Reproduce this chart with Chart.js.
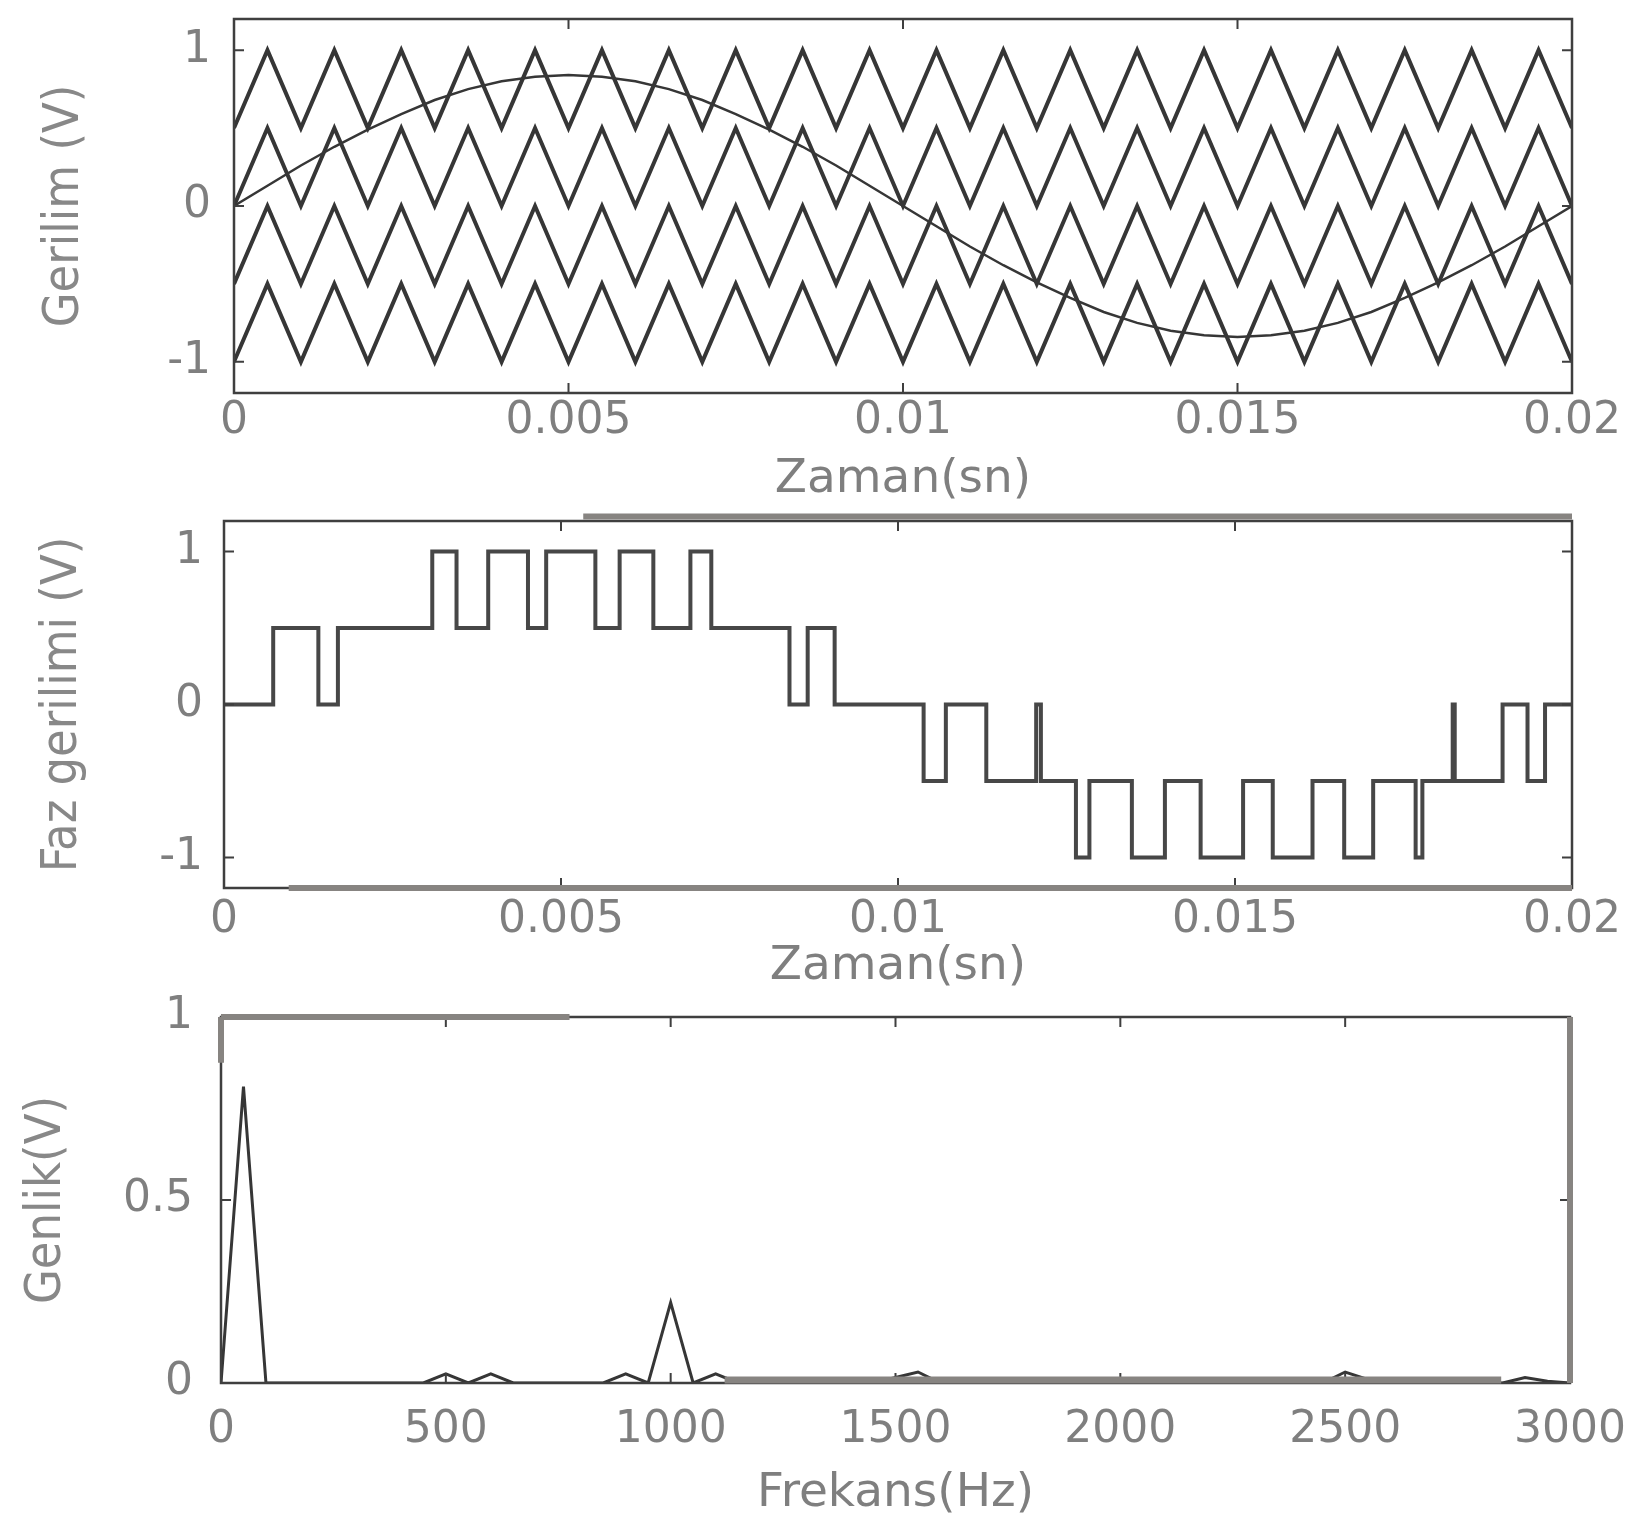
<!DOCTYPE html>
<html>
<head>
<meta charset="utf-8">
<title>Faz gerilimi ve spektrum</title>
<script src="https://cdn.jsdelivr.net/npm/chart.js@4.4.0/dist/chart.umd.min.js"></script>
<style>
  body { margin: 0; background: #fff; }
  #wrap { position: relative; width: 1652px; height: 1527px; }
  canvas { position: absolute; left: 0; }
</style>
</head>
<body>
<div id="wrap">
  <canvas id="gerilim" width="1652" height="520" style="top:0px"></canvas>
  <canvas id="faz" width="1652" height="520" style="top:490px"></canvas>
  <canvas id="genlik" width="1652" height="542" style="top:985px"></canvas>
</div>
<script>
// --- ust grafik: tasiyicilar ve referans (0.5 ms aralik) ---
var zaman = [0, 0.0005, 0.001, 0.0015, 0.002, 0.0025, 0.003, 0.0035, 0.004, 0.0045,
             0.005, 0.0055, 0.006, 0.0065, 0.007, 0.0075, 0.008, 0.0085, 0.009, 0.0095,
             0.01, 0.0105, 0.011, 0.0115, 0.012, 0.0125, 0.013, 0.0135, 0.014, 0.0145,
             0.015, 0.0155, 0.016, 0.0165, 0.017, 0.0175, 0.018, 0.0185, 0.019, 0.0195, 0.02];
var tasiyici1 = [0.5,1,0.5,1,0.5,1,0.5,1,0.5,1, 0.5,1,0.5,1,0.5,1,0.5,1,0.5,1,
                 0.5,1,0.5,1,0.5,1,0.5,1,0.5,1, 0.5,1,0.5,1,0.5,1,0.5,1,0.5,1, 0.5];
var tasiyici2 = [0,0.5,0,0.5,0,0.5,0,0.5,0,0.5, 0,0.5,0,0.5,0,0.5,0,0.5,0,0.5,
                 0,0.5,0,0.5,0,0.5,0,0.5,0,0.5, 0,0.5,0,0.5,0,0.5,0,0.5,0,0.5, 0];
var tasiyici3 = [-0.5,0,-0.5,0,-0.5,0,-0.5,0,-0.5,0, -0.5,0,-0.5,0,-0.5,0,-0.5,0,-0.5,0,
                 -0.5,0,-0.5,0,-0.5,0,-0.5,0,-0.5,0, -0.5,0,-0.5,0,-0.5,0,-0.5,0,-0.5,0, -0.5];
var tasiyici4 = [-1,-0.5,-1,-0.5,-1,-0.5,-1,-0.5,-1,-0.5, -1,-0.5,-1,-0.5,-1,-0.5,-1,-0.5,-1,-0.5,
                 -1,-0.5,-1,-0.5,-1,-0.5,-1,-0.5,-1,-0.5, -1,-0.5,-1,-0.5,-1,-0.5,-1,-0.5,-1,-0.5, -1];
var referans = [0,0.13,0.26,0.38,0.49,0.59,0.68,0.75,0.8,0.83,
                0.84,0.83,0.8,0.75,0.68,0.59,0.49,0.38,0.26,0.13,
                0,-0.13,-0.26,-0.38,-0.49,-0.59,-0.68,-0.75,-0.8,-0.83,
                -0.84,-0.83,-0.8,-0.75,-0.68,-0.59,-0.49,-0.38,-0.26,-0.13, 0];

// --- orta grafik: faz gerilimi (anahtarlama anlari ve seviyeler) ---
var fazZaman = [0, 0.00073, 0.0014, 0.00169, 0.00309, 0.00345, 0.00392, 0.00451, 0.00478, 0.00551,
                0.00587, 0.00637, 0.00692, 0.00723, 0.00839, 0.00866, 0.00906, 0.01038, 0.01071, 0.01131,
                0.01205, 0.01212, 0.01264, 0.01284, 0.01347, 0.01396, 0.01449, 0.01512, 0.01556, 0.01615,
                0.01662, 0.01705, 0.01768, 0.01778, 0.01823, 0.01826, 0.01897, 0.01934, 0.0196, 0.02];
var fazGerilim = [0, 0.5, 0, 0.5, 1, 0.5, 1, 0.5, 1, 0.5,
                  1, 0.5, 1, 0.5, 0, 0.5, 0, -0.5, 0, -0.5,
                  0, -0.5, -1, -0.5, -1, -0.5, -1, -0.5, -1, -0.5,
                  -1, -0.5, -1, -0.5, 0, -0.5, 0, -0.5, 0, 0];

// --- alt grafik: genlik spektrumu (50 Hz cozunurluk) ---
var frekans = [0,50,100,150,200,250,300,350,400,450,500,550,600,650,700,750,800,850,900,950,
               1000,1050,1100,1150,1200,1250,1300,1350,1400,1450,1500,1550,1600,1650,1700,1750,1800,1850,1900,1950,
               2000,2050,2100,2150,2200,2250,2300,2350,2400,2450,2500,2550,2600,2650,2700,2750,2800,2850,2900,2950,3000];
var genlik = [0,0.81,0,0,0,0,0,0,0,0, 0.025,0,0.025,0,0,0,0,0,0.025,0,
              0.22,0,0.025,0,0,0,0,0,0.01,0, 0.015,0.03,0,0,0,0.012,0,0,0,0,
              0,0.008,0,0,0,0,0.012,0,0,0, 0.03,0.01,0,0.012,0,0,0,0,0.015,0.005, 0];

// eksen isaretleri
var zamanTik = [0, 0.005, 0.01, 0.015, 0.02];
var zamanEtiket = ['0', '0.005', '0.01', '0.015', '0.02'];
var gerilimTik = [-1, 0, 1];
var gerilimEtiket = ['-1', '0', '1'];
var frekansTik = [0, 500, 1000, 1500, 2000, 2500, 3000];
var frekansEtiket = ['0', '500', '1000', '1500', '2000', '2500', '3000'];
var genlikTik = [0, 0.5, 1];
var genlikEtiket = ['0', '0.5', '1'];

var yaziRenk = '#7f7f7f';
var cizgiRenk = '#363636';
var tikFont = { family: 'DejaVu Sans', size: 44 };
var eksenFont = { family: 'DejaVu Sans', size: 47 };
var dikeyFont = { family: "'DejaVu Sans Condensed', 'DejaVu Sans'", size: 50 };

function xy(xs, ys) {
  return xs.map(function (x, i) { return { x: x, y: ys[i] }; });
}

function sabitle(w, h) {
  return function (scale) {
    if (w) scale.width = w;
    if (h) scale.height = h;
    scale.paddingTop = 0; scale.paddingBottom = 0;
    scale.paddingLeft = 0; scale.paddingRight = 0;
  };
}

function tikler(values) {
  return function (scale) {
    scale.ticks = values.map(function (v) { return { value: v }; });
  };
}

// cerceve, ice bakan tik izleri ve taramadaki gri bantlar
var cerceve = {
  id: 'cerceve',
  afterDatasetsDraw: function (chart, args, opts) {
    var ctx = chart.ctx, a = chart.chartArea;
    var x = chart.scales.x, y = chart.scales.y;
    ctx.save();
    ctx.strokeStyle = opts.renk;
    ctx.lineWidth = opts.kalinlik;
    ctx.strokeRect(a.left, a.top, a.right - a.left, a.bottom - a.top);
    ctx.lineWidth = 2;
    ctx.beginPath();
    x.ticks.forEach(function (t) {
      var px = x.getPixelForValue(t.value);
      ctx.moveTo(px, a.bottom); ctx.lineTo(px, a.bottom - 10);
      ctx.moveTo(px, a.top); ctx.lineTo(px, a.top + 10);
    });
    y.ticks.forEach(function (t) {
      var py = y.getPixelForValue(t.value);
      ctx.moveTo(a.left, py); ctx.lineTo(a.left + 10, py);
      ctx.moveTo(a.right, py); ctx.lineTo(a.right - 10, py);
    });
    ctx.stroke();
    (opts.bantlar || []).forEach(function (b) {
      ctx.strokeStyle = '#878481';
      ctx.lineWidth = b.w;
      ctx.beginPath();
      ctx.moveTo(x.getPixelForValue(b.x0), y.getPixelForValue(b.y0));
      ctx.lineTo(x.getPixelForValue(b.x1), y.getPixelForValue(b.y1));
      ctx.stroke();
    });
    ctx.restore();
  }
};

function grafik(id, p) {
  return new Chart(document.getElementById(id), {
    type: 'line',
    data: { datasets: p.datasets },
    options: {
      responsive: false,
      animation: false,
      events: [],
      layout: { padding: { top: p.ust, right: p.sag, bottom: 0, left: 0 } },
      elements: { point: { radius: 0 }, line: { tension: 0 } },
      plugins: {
        legend: { display: false },
        tooltip: { enabled: false },
        cerceve: { renk: '#3f3f3f', kalinlik: 2.5, bantlar: p.bantlar }
      },
      scales: {
        x: {
          type: 'linear', min: p.xMin, max: p.xMax,
          afterFit: sabitle(0, p.xYukseklik),
          afterBuildTicks: tikler(p.xTik),
          grid: { display: false, drawTicks: false },
          border: { display: false },
          ticks: {
            autoSkip: false, maxRotation: 0, padding: p.xTikBosluk,
            color: yaziRenk, font: tikFont,
            callback: function (v, i) { return p.xEtiket[i]; }
          },
          title: {
            display: true, text: p.xBaslik, color: yaziRenk, font: eksenFont,
            padding: { top: 0, bottom: p.xBaslikBosluk }
          }
        },
        y: {
          type: 'linear', min: p.yMin, max: p.yMax,
          afterFit: sabitle(p.yGenislik, 0),
          afterBuildTicks: tikler(p.yTik),
          grid: { display: false, drawTicks: false },
          border: { display: false },
          ticks: {
            autoSkip: false, padding: p.yTikBosluk,
            color: yaziRenk, font: tikFont,
            callback: function (v, i) { return p.yEtiket[i]; }
          },
          title: {
            display: true, text: p.yBaslik, color: '#888888', font: dikeyFont,
            padding: { top: p.yBaslikBosluk, bottom: 0 }
          }
        }
      }
    },
    plugins: [cerceve]
  });
}

function seri(ys, w) {
  return { data: xy(zaman, ys), borderColor: cizgiRenk, borderWidth: w };
}

grafik('gerilim', {
  datasets: [seri(tasiyici1, 4), seri(tasiyici2, 4), seri(tasiyici3, 4),
             seri(tasiyici4, 4), seri(referans, 2.5)],
  ust: 19, sag: 80, xYukseklik: 127, yGenislik: 234,
  xMin: 0, xMax: 0.02, xTik: zamanTik, xEtiket: zamanEtiket,
  yMin: -1.2, yMax: 1.2, yTik: gerilimTik, yEtiket: gerilimEtiket,
  xTikBosluk: 2, yTikBosluk: 23,
  xBaslik: 'Zaman(sn)', xBaslikBosluk: 12,
  yBaslik: 'Gerilim (V)', yBaslikBosluk: 35,
  bantlar: []
});

grafik('faz', {
  datasets: [{ data: xy(fazZaman, fazGerilim), borderColor: '#474747', borderWidth: 4, stepped: 'before' }],
  ust: 31, sag: 80, xYukseklik: 122, yGenislik: 224,
  xMin: 0, xMax: 0.02, xTik: zamanTik, xEtiket: zamanEtiket,
  yMin: -1.2, yMax: 1.2, yTik: gerilimTik, yEtiket: gerilimEtiket,
  xTikBosluk: 6, yTikBosluk: 21,
  xBaslik: 'Zaman(sn)', xBaslikBosluk: 15,
  yBaslik: 'Faz gerilimi (V)', yBaslikBosluk: 33,
  bantlar: [
    { x0: 0.00533, x1: 0.02, y0: 1.23, y1: 1.23, w: 6 },
    { x0: 0.00096, x1: 0.02, y0: -1.2, y1: -1.2, w: 6 }
  ]
});

grafik('genlik', {
  datasets: [{ data: xy(frekans, genlik), borderColor: cizgiRenk, borderWidth: 3 }],
  ust: 32, sag: 82, xYukseklik: 144, yGenislik: 221,
  xMin: 0, xMax: 3000, xTik: frekansTik, xEtiket: frekansEtiket,
  yMin: 0, yMax: 1, yTik: genlikTik, yEtiket: genlikEtiket,
  xTikBosluk: 21, yTikBosluk: 28,
  xBaslik: 'Frekans(Hz)', xBaslikBosluk: 5,
  yBaslik: 'Genlik(V)', yBaslikBosluk: 17,
  bantlar: [
    { x0: 0, x1: 775, y0: 1, y1: 1, w: 6 },
    { x0: 0, x1: 0, y0: 1, y1: 0.875, w: 6 },
    { x0: 3000, x1: 3000, y0: 1, y1: 0, w: 6 },
    { x0: 1120, x1: 2847, y0: 0.008, y1: 0.008, w: 7 }
  ]
});
</script>
</body>
</html>
